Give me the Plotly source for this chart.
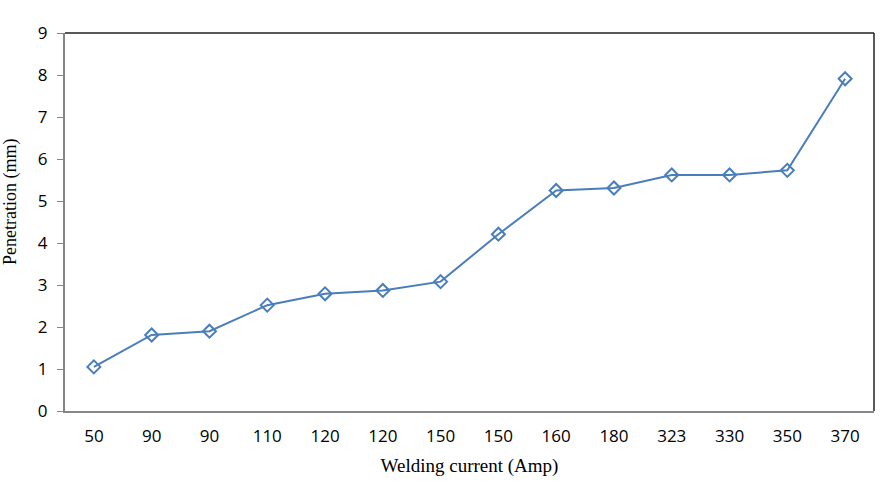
import plotly.graph_objects as go

currents = ["50", "90", "90", "110", "120", "120", "150", "150", "160", "180", "323", "330", "350", "370"]
penetration = [1.05, 1.81, 1.90, 2.52, 2.79, 2.87, 3.08, 4.21, 5.25, 5.31, 5.62, 5.62, 5.73, 7.91]
y_ticks = [0, 1, 2, 3, 4, 5, 6, 7, 8, 9]

idx = list(range(len(currents)))

fig = go.Figure()
fig.add_trace(go.Scatter(
    x=idx, y=penetration, mode="lines+markers",
    line=dict(color="#4a7ebb", width=2),
    marker=dict(symbol="diamond-open", size=10, color="#4a7ebb", line=dict(width=2, color="#4a7ebb")),
    showlegend=False, cliponaxis=False,
))

fig.update_layout(
    width=880, height=482,
    margin=dict(l=65, r=6, t=33, b=71),
    paper_bgcolor="white", plot_bgcolor="white",
    font=dict(family="Open Sans", size=17, color="black"),
    xaxis=dict(
        range=[-0.5, len(currents) - 0.5],
        tickmode="array", tickvals=idx, ticktext=currents,
        showline=True, linecolor="#868686", linewidth=2,
        showgrid=False, zeroline=False, ticks="", ticklabelstandoff=9,
        tickfont=dict(family="Open Sans", size=17),
        title=dict(text="Welding current (Amp)", font=dict(family="Liberation Serif", size=19), standoff=12),
    ),
    yaxis=dict(
        range=[0, 9], tickmode="array", tickvals=y_ticks,
        showline=True, linecolor="#868686", linewidth=2,
        showgrid=False, zeroline=False, ticks="outside", ticklen=6, tickcolor="#868686", tickwidth=1,
        ticklabelstandoff=6,
        tickfont=dict(family="Open Sans", size=17),
    ),
    shapes=[
        dict(type="line", xref="paper", yref="paper", x0=0, x1=1, y0=1, y1=1, line=dict(color="#222222", width=1.5)),
        dict(type="line", xref="paper", yref="paper", x0=1, x1=1, y0=0, y1=1, line=dict(color="#222222", width=1.5)),
    ],
    annotations=[
        dict(text="Penetration (mm)", textangle=-90, xref="paper", yref="paper",
             x=-55 / 809, y=(411 - 202) / 378, xanchor="center", yanchor="middle",
             showarrow=False, font=dict(family="Liberation Serif", size=18, color="black")),
    ],
)

fig.write_html("out.html")
